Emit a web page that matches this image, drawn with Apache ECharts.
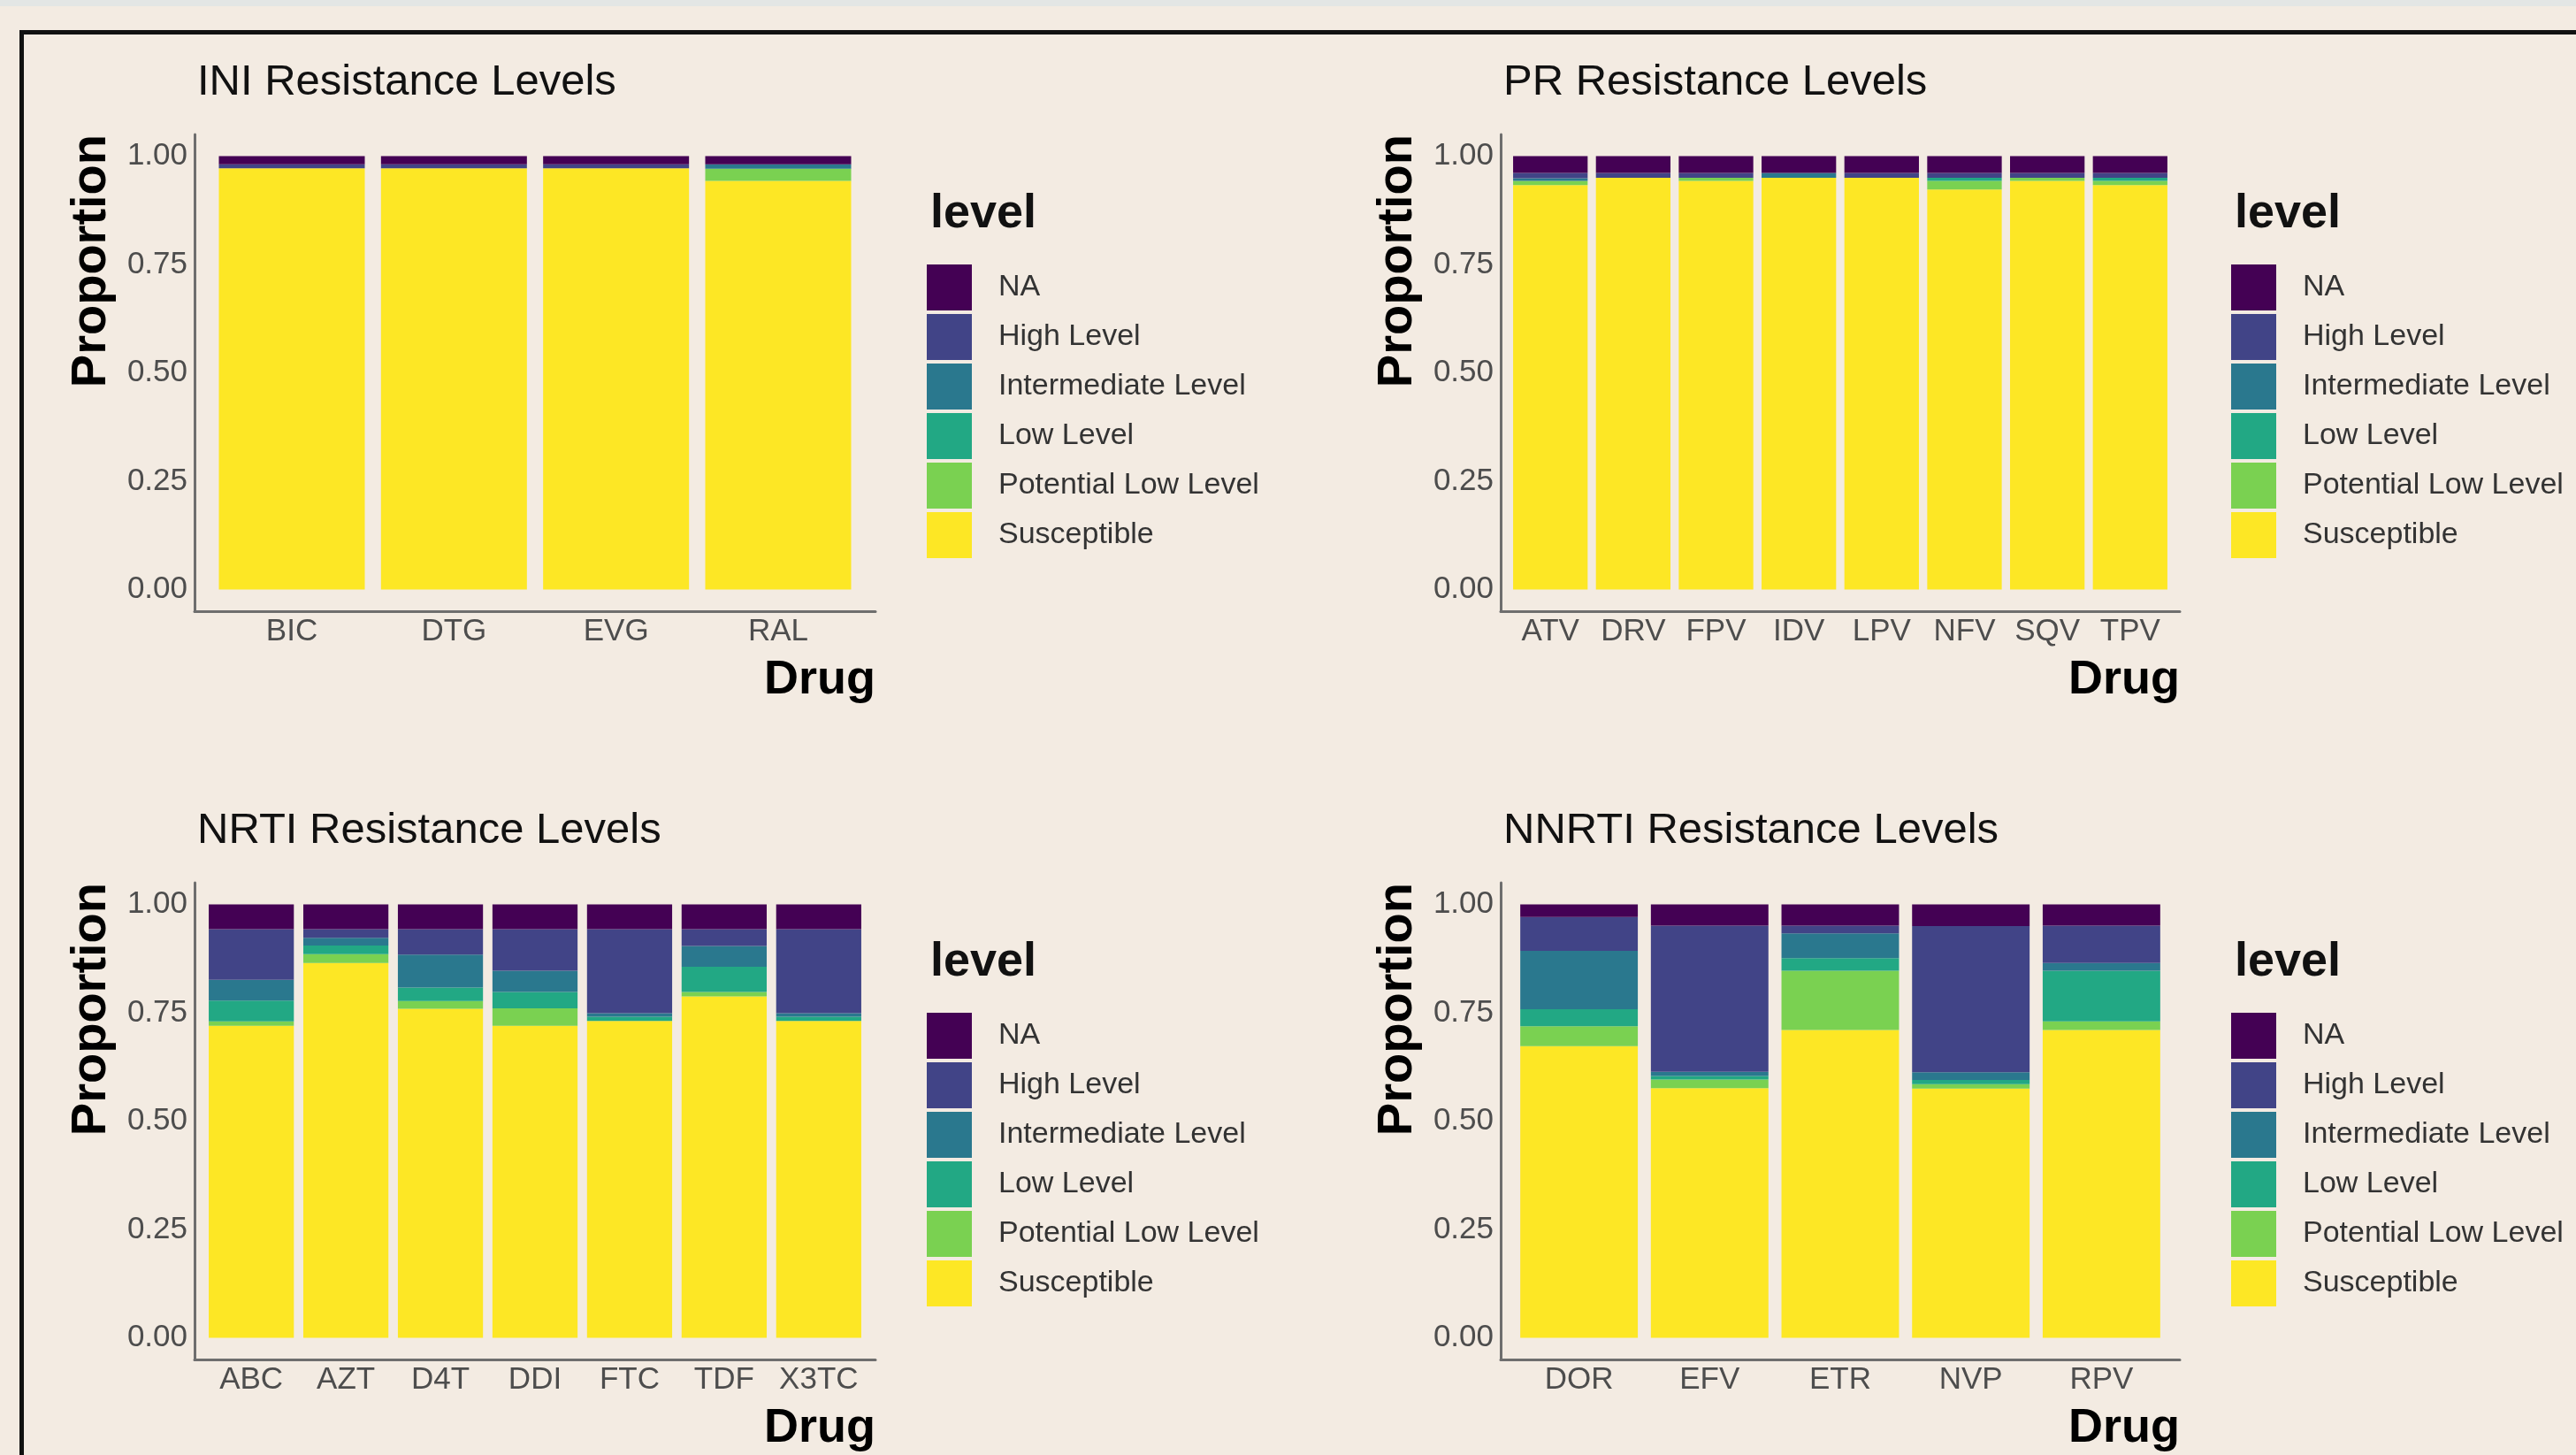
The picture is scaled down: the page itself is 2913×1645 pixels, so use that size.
<!DOCTYPE html>
<html>
<head>
<meta charset="utf-8">
<title>Resistance Levels</title>
<script src="https://cdn.jsdelivr.net/npm/echarts@6.0.0/dist/echarts.min.js"></script>
<style>
  html, body { margin: 0; padding: 0; }
  #page {
    position: relative;
    width: 2913px;
    height: 1645px;
    background: #F3EBE2;
    overflow: hidden;
  }
  #strip {
    position: absolute; left: 0; top: 0;
    width: 100%; height: 7px;
    background: #E3E6E5;
  }
  #frame {
    position: absolute; left: 22px; top: 34px;
    width: 3100px; height: 1800px;
    border: 5px solid #111;
  }
  #chart {
    position: absolute; left: 0; top: 0;
    width: 2913px; height: 1645px;
  }
</style>
</head>
<body>
<div id="page">
  <div id="strip"></div>
  <div id="frame"></div>
  <div id="chart"></div>
</div>
<script>
// stacking order, bottom -> top
const levels = ['Susceptible', 'Potential Low Level', 'Low Level', 'Intermediate Level', 'High Level', 'NA']
const levelColors = ['#FDE725', '#7AD151', '#22A884', '#2A788E', '#414487', '#440154']
// legend shows top -> bottom
const legendOrder = ['NA', 'High Level', 'Intermediate Level', 'Low Level', 'Potential Low Level', 'Susceptible']

// INI
const iniDrugs = ['BIC', 'DTG', 'EVG', 'RAL']
const iniSusceptible = [0.972, 0.972, 0.972, 0.943]
const iniPotentialLow = [0, 0, 0, 0.028]
const iniLow = [0, 0, 0, 0]
const iniIntermediate = [0, 0, 0, 0.010]
const iniHigh = [0.009, 0.009, 0.009, 0]
const iniNA = [0.019, 0.019, 0.019, 0.019]

// PR
const prDrugs = ['ATV', 'DRV', 'FPV', 'IDV', 'LPV', 'NFV', 'SQV', 'TPV']
const prSusceptible = [0.933, 0.950, 0.943, 0.950, 0.950, 0.923, 0.943, 0.933]
const prPotentialLow = [0.010, 0, 0.007, 0, 0, 0.020, 0.007, 0.010]
const prLow = [0, 0, 0, 0, 0, 0.007, 0, 0.007]
const prIntermediate = [0.006, 0, 0, 0.011, 0, 0, 0, 0]
const prHigh = [0.012, 0.011, 0.011, 0, 0.011, 0.011, 0.011, 0.011]
const prNA = [0.039, 0.039, 0.039, 0.039, 0.039, 0.039, 0.039, 0.039]

// NRTI
const nrtiDrugs = ['ABC', 'AZT', 'D4T', 'DDI', 'FTC', 'TDF', 'X3TC']
const nrtiSusceptible = [0.720, 0.865, 0.759, 0.720, 0.731, 0.788, 0.731]
const nrtiPotentialLow = [0.010, 0.020, 0.018, 0.040, 0, 0.010, 0]
const nrtiLow = [0.048, 0.020, 0.031, 0.038, 0.010, 0.058, 0.010]
const nrtiIntermediate = [0.048, 0.018, 0.076, 0.049, 0.008, 0.048, 0.008]
const nrtiHigh = [0.117, 0.020, 0.059, 0.096, 0.194, 0.039, 0.194]
const nrtiNA = [0.057, 0.057, 0.057, 0.057, 0.057, 0.057, 0.057]

// NNRTI
const nnrtiDrugs = ['DOR', 'EFV', 'ETR', 'NVP', 'RPV']
const nnrtiSusceptible = [0.673, 0.576, 0.710, 0.575, 0.710]
const nnrtiPotentialLow = [0.046, 0.020, 0.137, 0.010, 0.020]
const nnrtiLow = [0.039, 0.008, 0.029, 0.010, 0.117]
const nnrtiIntermediate = [0.135, 0.010, 0.057, 0.018, 0.018]
const nnrtiHigh = [0.078, 0.337, 0.018, 0.337, 0.086]
const nnrtiNA = [0.029, 0.049, 0.049, 0.050, 0.049]

const yTicks = [0, 0.25, 0.5, 0.75, 1]

const panels = [
  {title: 'INI Resistance Levels', drugs: iniDrugs,
    values: [iniSusceptible, iniPotentialLow, iniLow, iniIntermediate, iniHigh, iniNA],
    left: 220, top: 152, width: 770},
  {title: 'PR Resistance Levels', drugs: prDrugs,
    values: [prSusceptible, prPotentialLow, prLow, prIntermediate, prHigh, prNA],
    left: 1697, top: 152, width: 768},
  {title: 'NRTI Resistance Levels', drugs: nrtiDrugs,
    values: [nrtiSusceptible, nrtiPotentialLow, nrtiLow, nrtiIntermediate, nrtiHigh, nrtiNA],
    left: 220, top: 998, width: 770},
  {title: 'NNRTI Resistance Levels', drugs: nnrtiDrugs,
    values: [nnrtiSusceptible, nnrtiPotentialLow, nnrtiLow, nnrtiIntermediate, nnrtiHigh, nnrtiNA],
    left: 1697, top: 998, width: 768}
]

const plotHeight = 539
const baseFont = 'Liberation Sans, Arial, sans-serif'
const axisColor = '#6e6e6e'
const tickColor = '#4d4d4d'

let titles = []
let legends = []
let grids = []
let xAxes = []
let yAxes = []
let series = []

panels.forEach(function (p, i) {
  titles.push({
    text: p.title,
    left: p.left - 2,
    top: p.top - 88,
    textStyle: {fontFamily: baseFont, fontSize: 49, fontWeight: 'normal', color: '#111'}
  })
  titles.push({
    text: 'level',
    left: p.left + p.width + 57,
    top: p.top + 58,
    textStyle: {fontFamily: baseFont, fontSize: 54, fontWeight: 'bold', color: '#111'}
  })
  legends.push({
    data: legendOrder,
    orient: 'vertical',
    left: p.left + p.width + 58,
    top: p.top + 147,
    padding: 0,
    icon: 'rect',
    itemWidth: 51,
    itemHeight: 52,
    itemGap: 4,
    selectedMode: false,
    textStyle: {fontFamily: baseFont, fontSize: 34, color: '#333', padding: [0, 0, 0, 25]}
  })
  grids.push({left: p.left, top: p.top, width: p.width, height: plotHeight})
  xAxes.push({
    type: 'value',
    gridIndex: i,
    min: 0.4,
    max: p.drugs.length + 0.6,
    splitLine: {show: false},
    axisTick: {show: false, customValues: p.drugs.map((d, j) => j + 1)},
    axisLine: {onZero: false, lineStyle: {color: axisColor, width: 3}},
    axisLabel: {
      customValues: p.drugs.map((d, j) => j + 1),
      formatter: function (v) { return p.drugs[Math.round(v) - 1] },
      fontFamily: baseFont, fontSize: 35, color: tickColor, margin: 6
    },
    name: 'Drug',
    nameLocation: 'end',
    nameGap: 0,
    nameTextStyle: {fontFamily: baseFont, fontSize: 54, fontWeight: 'bold', color: '#000',
      align: 'right', verticalAlign: 'top', padding: [51, 0, 0, 0]}
  })
  yAxes.push({
    type: 'value',
    gridIndex: i,
    min: -0.05,
    max: 1.05,
    splitLine: {show: false},
    axisTick: {show: false, customValues: yTicks},
    axisLine: {onZero: false, lineStyle: {color: axisColor, width: 3}},
    axisLabel: {
      customValues: yTicks,
      formatter: function (v) { return v.toFixed(2) },
      fontFamily: baseFont, fontSize: 35, color: tickColor, margin: 8
    },
    name: 'Proportion',
    nameLocation: 'end',
    nameGap: 0,
    nameRotate: 90,
    nameTextStyle: {fontFamily: baseFont, fontSize: 56, fontWeight: 'bold', color: '#000',
      align: 'right', verticalAlign: 'bottom', padding: [0, 0, 88, 0]}
  })
  levels.forEach(function (lv, k) {
    series.push({
      name: lv,
      type: 'bar',
      xAxisIndex: i,
      yAxisIndex: i,
      stack: 'panel' + i,
      barWidth: '90%',
      itemStyle: {color: levelColors[k]},
      emphasis: {disabled: true},
      // proportion first so it is the stacked dimension, drug position second
      encode: {x: 1, y: 0},
      data: p.values[k].map((v, j) => [v, j + 1])
    })
  })
})

let myChart = echarts.init(document.getElementById('chart'), null, {renderer: 'canvas'})
let option = {
  animation: false,
  backgroundColor: 'transparent',
  color: levelColors,
  title: titles,
  legend: legends,
  grid: grids,
  xAxis: xAxes,
  yAxis: yAxes,
  series: series
}
myChart.setOption(option, true)
</script>
</body>
</html>
